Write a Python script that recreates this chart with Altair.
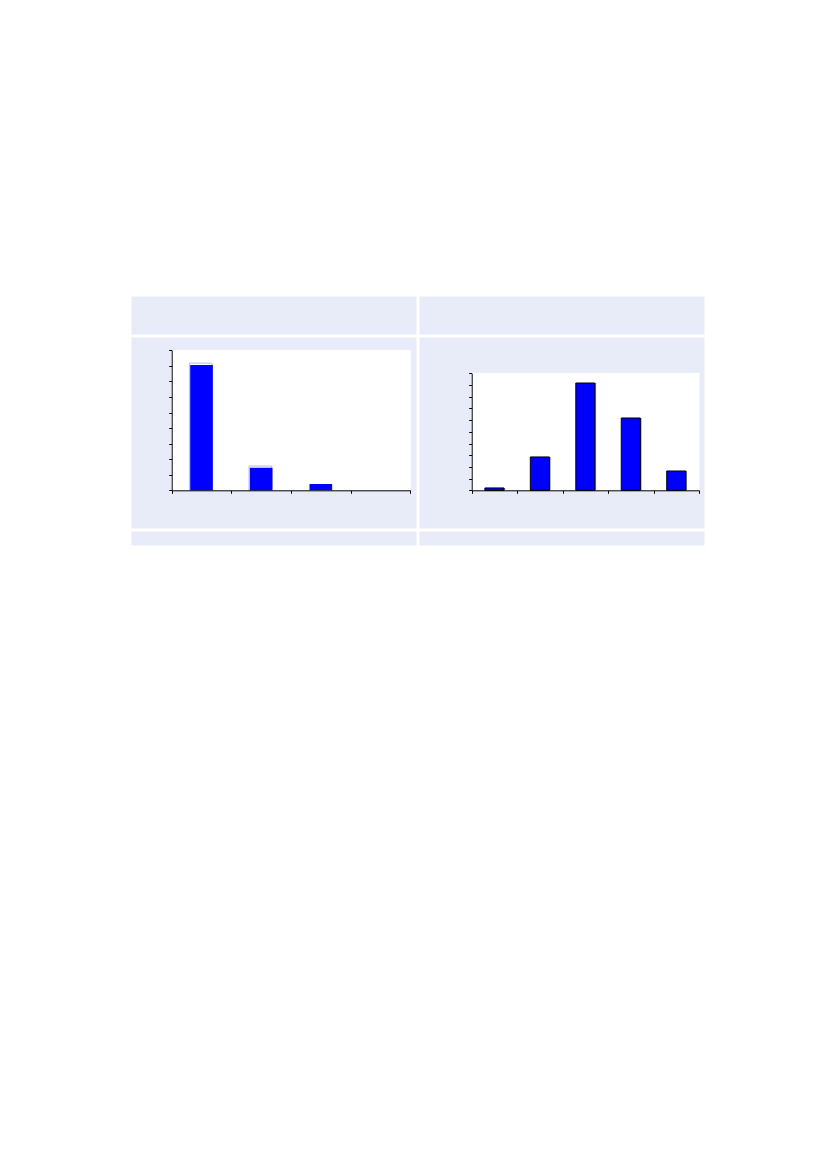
import altair as alt
import pandas as pd

# ---- data ----
left_categories = ["1", "2", "3", "4"]
left_values = [80.5, 14.5, 4.05, 0.0]
left_back = [81.8, 15.6, 3.5, 0.0]
left_ticks = [0, 10, 20, 30, 40, 50, 60, 70, 80, 90]

right_categories = ["1", "2", "3", "4", "5"]
right_values = [0.2, 2.85, 9.17, 6.18, 1.65]
right_ticks = [0, 1, 2, 3, 4, 5, 6, 7, 8, 9, 10]

LAV = "#E8EBF8"
BLUE = "#0000FF"
CELL_W = 285


def view_bg(fill):
    return alt.ViewBackground(fill=fill, stroke="transparent")


def empty_cell(h):
    unit = alt.Scale(domain=[0, 1])
    return (
        alt.Chart(pd.DataFrame({"v": [0.5]}))
        .mark_point(opacity=0, size=0, strokeWidth=0)
        .encode(x=alt.X("v:Q", axis=None, scale=unit),
                y=alt.Y("v:Q", axis=None, scale=unit))
        .properties(width=CELL_W, height=h, view=view_bg(LAV))
    )


def axis_common(offset, **kw):
    return alt.Axis(
        title=None, labels=False, grid=False, tickSize=3, tickColor="black",
        tickWidth=1, domainColor="black", domainWidth=1, offset=offset,
        zindex=1, **kw
    )


def bar_cell(cats, vals, back, ticks, xr, yr, xoff, yoff, band, style):
    df = pd.DataFrame({"cat": cats, "val": vals, "top": [ticks[-1]] * len(cats)})
    if back is not None:
        df["back"] = back
    x = alt.X(
        "cat:N", sort=cats,
        scale=alt.Scale(range=xr, paddingInner=0, paddingOuter=0),
        axis=axis_common(yoff, tickBand="extent"),
    )
    yscale = alt.Scale(domain=[ticks[0], ticks[-1]], range=yr, nice=False)
    yaxis = axis_common(xoff, values=ticks)
    base = alt.Chart(df)
    layers = [
        base.mark_bar(color="white", stroke="white", strokeWidth=1,
                      width=alt.RelativeBandSize(1))
        .encode(x=x, y=alt.Y("top:Q", scale=yscale, axis=yaxis)),
    ]
    if style == "left":
        layers.append(
            base.transform_filter("datum.back > datum.val")
            .mark_bar(fill="white", stroke="#B8B8EA", strokeWidth=1,
                      xOffset=-0.8, width=alt.RelativeBandSize(band))
            .encode(x=x, y=alt.Y("back:Q", scale=yscale, axis=yaxis))
        )
        layers.append(
            base.mark_bar(color=BLUE, width=alt.RelativeBandSize(band))
            .encode(x=x, y=alt.Y("val:Q", scale=yscale, axis=yaxis))
        )
    else:
        layers.append(
            base.mark_bar(color="#8C8C8C", xOffset=1.2,
                          width=alt.RelativeBandSize(band))
            .encode(x=x, y=alt.Y("val:Q", scale=yscale, axis=yaxis))
        )
        layers.append(
            base.mark_bar(color=BLUE, stroke="black", strokeWidth=1,
                          width=alt.RelativeBandSize(band))
            .encode(x=x, y=alt.Y("val:Q", scale=yscale, axis=yaxis))
        )
    return alt.layer(*layers).properties(width=CELL_W, height=191, view=view_bg(LAV))


left_mid = bar_cell(left_categories, left_values, left_back, left_ticks,
                    [40.7, 279.3], [153.3, 13.3], -40.7, -37.7, 0.38, "left")
right_mid = bar_cell(right_categories, right_values, None, right_ticks,
                     [52.7, 280.0], [153.3, 36.3], -52.7, -37.7, 0.42, "right")

chart = (
    alt.concat(
        empty_cell(38), empty_cell(38),
        left_mid, right_mid,
        empty_cell(14), empty_cell(14),
        columns=2, spacing=3, bounds="flush",
    )
    .properties(padding={"left": 122, "top": 287, "right": 5, "bottom": 5},
                background="white")
)

chart.save("out.html", embed_options={"renderer": "svg", "actions": False})
